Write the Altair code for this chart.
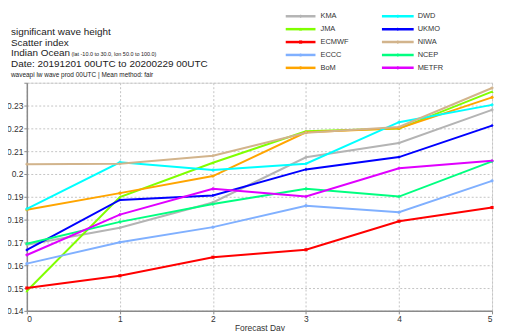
import altair as alt
import pandas as pd

days = [0, 1, 2, 3, 4, 5]

KMA = [0.1690, 0.1764, 0.1875, 0.2073, 0.2136, 0.2281]
JMA = [0.1487, 0.1899, 0.2049, 0.2187, 0.2199, 0.2361]
ECMWF = [0.1500, 0.1554, 0.1635, 0.1668, 0.1793, 0.1853]
ECCC = [0.1607, 0.1701, 0.1767, 0.1861, 0.1832, 0.1970]
BoM = [0.1843, 0.1916, 0.1991, 0.2183, 0.2200, 0.2336]
DWD = [0.1847, 0.2051, 0.2017, 0.2045, 0.2227, 0.2303]
UKMO = [0.1667, 0.1886, 0.1906, 0.2020, 0.2074, 0.2212]
NIWA = [0.2043, 0.2045, 0.2080, 0.2181, 0.2206, 0.2377]
NCEP = [0.1694, 0.1790, 0.1868, 0.1935, 0.1901, 0.2055]
METFR = [0.1645, 0.1822, 0.1935, 0.1901, 0.2025, 0.2058]

models = ["KMA", "JMA", "ECMWF", "ECCC", "BoM", "DWD", "UKMO", "NIWA", "NCEP", "METFR"]
series = [KMA, JMA, ECMWF, ECCC, BoM, DWD, UKMO, NIWA, NCEP, METFR]

colors = ["#b4b4b4", "#80ff00", "#ff0000", "#80b0ff", "#ffa500",
          "#00ffff", "#0000ff", "#d2b48c", "#00ff80", "#e000ff"]
shapes = ["cross", "triangle-up", "square", "circle", "circle",
          "cross", "diamond", "cross", "cross", "cross"]
sizes = [10, 10, 24, 14, 14, 10, 12, 10, 10, 10]

y_ticks = [0.14, 0.15, 0.16, 0.17, 0.18, 0.19, 0.20, 0.21, 0.22, 0.23, 0.24]

title_lines = [
    "significant wave height",
    "Scatter index",
    "Indian Ocean",
    "Date: 20191201 00UTC to 20200229 00UTC",
]
region_note = "(lat -10.0 to 30.0, lon  50.0 to  100.0)"
sub_line = "waveapi lw wave prod 00UTC | Mean method: fair"

rows = []
for order, (name, vals) in enumerate(zip(models, series)):
    for d, v in zip(days, vals):
        rows.append({"day": d, "si": v, "model": name, "ord": order})
df = pd.DataFrame(rows)

FONT = "Liberation Sans"
W, H = 469, 230
AX = "#8a8a8a"
TXT = "#333333"
GRID = "#c4c4c4"

color_scale = alt.Scale(domain=models, range=colors)
color_enc = alt.Color("model:N", scale=color_scale, legend=None)
shape_enc = alt.Shape("model:N", scale=alt.Scale(domain=models, range=shapes), legend=None)
size_enc = alt.Size("model:N", scale=alt.Scale(domain=models, range=sizes), legend=None)

x_scale = alt.Scale(domain=[0, 5], nice=False)
y_scale = alt.Scale(domain=[0.14, 0.24], nice=False, zero=False)

x_enc = alt.X("day:Q", title="Forecast Day", scale=x_scale,
              axis=alt.Axis(values=days, format="d", labelFontSize=8.5, titleFontSize=8.5,
                            titleFontWeight="normal", titlePadding=0, labelPadding=1,
                            tickSize=3, gridDash=[2, 2], gridColor=GRID, labelOverlap=False,
                            domainColor=AX, domainWidth=1.5, tickColor=AX,
                            labelColor=TXT, titleColor=TXT, labelFont=FONT,
                            titleFont=FONT))
y_enc = alt.Y("si:Q", title=None, scale=y_scale,
              axis=alt.Axis(values=y_ticks,
                            labelExpr="datum.value > 0.2395 ? '' : format(datum.value, '.2~f')",
                            labelFontSize=8.5, tickSize=3, labelPadding=1, labelOverlap=False,
                            gridDash=[2, 2], gridColor=GRID,
                            domainColor=AX, domainWidth=1.5, tickColor=AX,
                            labelColor=TXT, labelFont=FONT))

lines = alt.Chart(df).mark_line(strokeWidth=2).encode(
    x=x_enc, y=y_enc, color=color_enc, detail="model:N", order=alt.Order("day:Q"))
pts = alt.Chart(df).mark_point(filled=True, opacity=1).encode(
    x=x_enc, y=y_enc, color=color_enc, shape=shape_enc, size=size_enc)
main = alt.layer(lines, pts)

# manual two-column legend (5 rows each)
leg = pd.DataFrame({"model": models, "row": [i % 5 for i in range(len(models))],
                    "col": [i // 5 for i in range(len(models))]})
row_y = alt.Y("row:Q", scale=alt.Scale(domain=[0, 4], range=[-67, -15]), axis=None)
legend_layers = []
for c, (x0, x1, xt) in enumerate([(261, 291, 296), (358, 390, 394)]):
    sub = leg[leg.col == c]
    legend_layers.append(alt.Chart(sub).mark_rule(strokeWidth=2.5).encode(
        x=alt.value(x0), x2=alt.value(x1), y=row_y, color=color_enc))
    legend_layers.append(alt.Chart(sub).mark_point(filled=True, opacity=1).encode(
        x=alt.value((x0 + x1) / 2), y=row_y, color=color_enc, shape=shape_enc, size=size_enc))
    legend_layers.append(alt.Chart(sub).mark_text(
        align="left", baseline="middle", fontSize=7.5, font=FONT, color=TXT).encode(
        x=alt.value(xt), y=row_y, text="model:N"))

tdf = pd.DataFrame({"t": title_lines, "i": list(range(len(title_lines)))})
titles = alt.Chart(tdf).mark_text(align="left", baseline="middle", fontSize=10, font=FONT, color="#222222").encode(
    x=alt.value(-16),
    y=alt.Y("i:Q", scale=alt.Scale(domain=[0, 3], range=[-51, -19]), axis=None),
    text="t:N")
note = alt.Chart(pd.DataFrame({"t": [region_note]})).mark_text(
    align="left", baseline="middle", fontSize=5.5, font=FONT, color="#222222").encode(
    x=alt.value(45), y=alt.value(-29), text="t:N")
subt = alt.Chart(pd.DataFrame({"t": [sub_line]})).mark_text(
    align="left", baseline="middle", fontSize=6.5, font=FONT, color="#222222").encode(
    x=alt.value(-16), y=alt.value(-8), text="t:N")

chart = alt.layer(main, *legend_layers, titles, note, subt).resolve_scale(
    x="independent", y="independent").properties(
    width=W, height=H,
    autosize=alt.AutoSizeParams(type="none"),
    padding={"left": 19, "top": 74, "right": 5, "bottom": 23},
).configure_view(stroke="#b0b0b0", strokeWidth=1).configure(background="white")

chart.save("out.html", embed_options={"renderer": "svg", "actions": False})
